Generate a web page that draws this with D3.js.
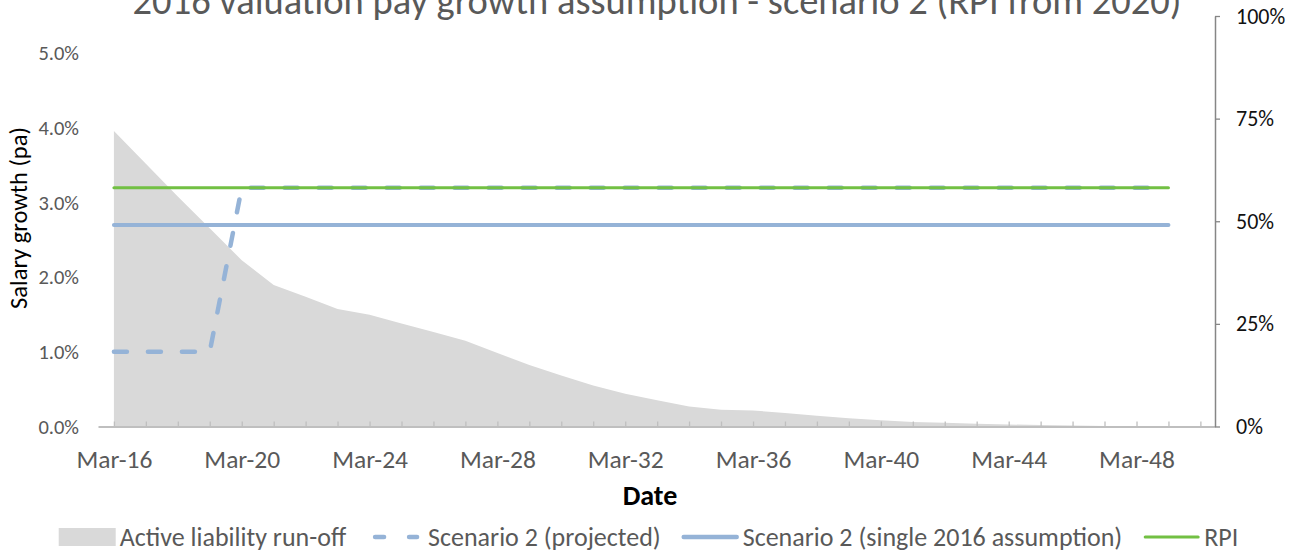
<!DOCTYPE html>
<html>
<head>
<meta charset="utf-8">
<script src="https://cdn.jsdelivr.net/npm/d3@7"></script>
<style>
  body { margin: 0; background: #fff; }
  svg text { font-family: Calibri, Carlito, Lato, sans-serif; }
</style>
</head>
<body>
<svg id="chart" width="1298" height="554"></svg>
<script>
// chart data
const years = d3.range(2016, 2050);
const runoff = [72, 64, 56, 48.3, 40.5, 34.5, 31.6, 28.6, 27.2, 25.1, 23.0, 20.9,
  17.9, 15.0, 12.4, 10.0, 8.0, 6.4, 4.9, 4.1, 3.9, 3.3, 2.6, 2.0, 1.5, 1.1, 0.9,
  0.7, 0.5, 0.35, 0.25, 0.15, 0.1, 0.05];
const projected = [1.0, 1.0, 1.0, 1.0, 3.2, 3.2, 3.2, 3.2, 3.2, 3.2, 3.2, 3.2,
  3.2, 3.2, 3.2, 3.2, 3.2, 3.2, 3.2, 3.2, 3.2, 3.2, 3.2, 3.2, 3.2, 3.2, 3.2,
  3.2, 3.2, 3.2, 3.2, 3.2, 3.2, 3.2];
const single2016 = years.map(() => 2.7);
const rpi = years.map(() => 3.2);
const leftTicks = [0, 1, 2, 3, 4, 5];
const rightTicks = [0, 25, 50, 75, 100];
const tickYears = d3.range(2016, 2051);
const labelYears = [2016, 2020, 2024, 2028, 2032, 2036, 2040, 2044, 2048];

const title = "2016 valuation pay growth assumption - scenario 2 (RPI from 2020)";
const legendNames = ["Active liability run-off", "Scenario 2 (projected)",
  "Scenario 2 (single 2016 assumption)", "RPI"];

const grey = "#595959";
const blue = "#95b3d7";
const green = "#72c043";

const svg = d3.select("#chart");
const date = y => new Date(y, 2, 1);

const x = d3.scaleTime()
  .domain([new Date(2015, 8, 1), new Date(2050, 7, 15)])
  .range([98, 1215]);
const yL = d3.scaleLinear().domain([0, 5.5]).range([426.5, 16]);
const yR = d3.scaleLinear().domain([0, 100]).range([426.5, 16]);

// run-off area on the right axis
const area = d3.area()
  .x((d, i) => x(date(years[i])))
  .y0(yR(0))
  .y1(d => yR(d));
svg.append("path")
  .datum(runoff)
  .attr("d", area)
  .attr("fill", "#d9d9d9");

// bottom axis
const xAxis = d3.axisBottom(x)
  .tickValues(tickYears.map(date))
  .tickSize(-5)
  .tickSizeOuter(0)
  .tickPadding(23)
  .tickFormat(d => labelYears.includes(d.getFullYear()) ? d3.timeFormat("%b-%y")(d) : "");
const gx = svg.append("g")
  .attr("transform", `translate(0,${yL(0)})`)
  .call(xAxis);
gx.select(".domain").attr("stroke", "#bfbfbf").attr("stroke-width", 2);
gx.selectAll(".tick line").attr("stroke", "#bfbfbf").attr("stroke-width", 1.3);
gx.selectAll("text").attr("fill", grey).style("font-size", "25.5px");

// left axis (labels only)
const gl = svg.append("g")
  .attr("transform", "translate(83,0)")
  .call(d3.axisLeft(yL).tickValues(leftTicks).tickSize(0).tickPadding(4)
    .tickFormat(d => d3.format(".1f")(d) + "%"));
gl.select(".domain").remove();
gl.selectAll("text").attr("fill", grey).style("font-size", "20.5px");

// right axis
const gr = svg.append("g")
  .attr("transform", "translate(1215,0)")
  .call(d3.axisRight(yR).tickValues(rightTicks).tickSize(5).tickSizeOuter(0).tickPadding(16)
    .tickFormat(d => d + "%"));
gr.select(".domain").attr("stroke", "#868686").attr("stroke-width", 1.5);
gr.selectAll(".tick line").attr("stroke", "#868686").attr("stroke-width", 1.3);
gr.selectAll("text").attr("fill", "#111").style("font-size", "22px");

// series lines
const line = d3.line()
  .x((d, i) => x(date(years[i])))
  .y(d => yL(d));
svg.append("path")
  .datum(projected)
  .attr("d", line)
  .attr("fill", "none")
  .attr("stroke", blue)
  .attr("stroke-width", 4.5)
  .attr("stroke-linecap", "round")
  .attr("stroke-dasharray", "13,21");
svg.append("path")
  .datum(single2016)
  .attr("d", line)
  .attr("fill", "none")
  .attr("stroke", blue)
  .attr("stroke-width", 4)
  .attr("stroke-linecap", "round");
svg.append("path")
  .datum(rpi)
  .attr("d", line)
  .attr("fill", "none")
  .attr("stroke", green)
  .attr("stroke-width", 3)
  .attr("stroke-linecap", "round");

// titles
svg.append("text")
  .attr("x", 657).attr("y", 14)
  .attr("text-anchor", "middle")
  .attr("fill", grey)
  .style("font-size", "38.5px")
  .text(title);
svg.append("text")
  .attr("x", 650).attr("y", 505)
  .attr("text-anchor", "middle")
  .attr("fill", "#000")
  .style("font-size", "28px")
  .style("font-weight", "bold")
  .text("Date");
svg.append("text")
  .attr("transform", "translate(27,218) rotate(-90)")
  .attr("text-anchor", "middle")
  .attr("fill", "#000")
  .style("font-size", "24.5px")
  .text("Salary growth (pa)");

// legend, laid out left to right and centred
const legend = svg.append("g");
let lx = 0;
legendNames.forEach((name, i) => {
  const g = legend.append("g").attr("transform", `translate(${lx},0)`);
  if (i === 0) {
    g.append("rect").attr("x", 0).attr("y", -9).attr("width", 57).attr("height", 18)
      .attr("fill", "#d9d9d9");
  } else {
    g.append("line").attr("x1", i === 1 ? 8 : 2).attr("x2", i === 1 ? 50 : 55)
      .attr("y1", 0).attr("y2", 0)
      .attr("stroke", i === 3 ? green : blue)
      .attr("stroke-width", i === 3 ? 3 : 4.5)
      .attr("stroke-linecap", "round")
      .attr("stroke-dasharray", i === 1 ? "9,25" : null);
  }
  const t = g.append("text")
    .attr("x", 61).attr("y", 9)
    .attr("fill", grey)
    .style("font-size", "26px")
    .text(name);
  lx += 61 + t.node().getComputedTextLength() + 21;
});
lx -= 21;
legend.attr("transform", `translate(${648.5 - lx / 2},537)`);
</script>
</body>
</html>
